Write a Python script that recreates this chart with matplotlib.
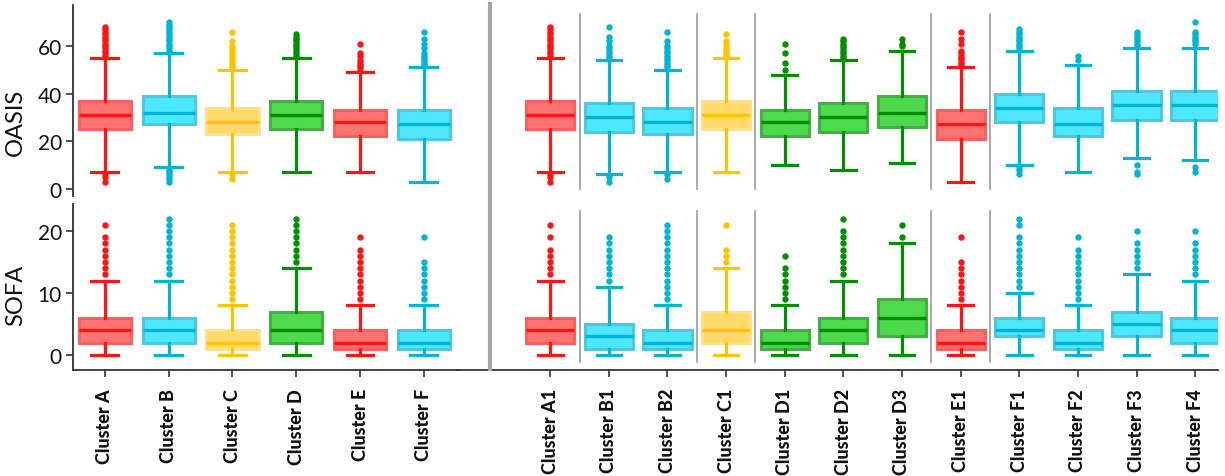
import matplotlib
matplotlib.use("Agg")
import matplotlib.pyplot as plt
from matplotlib.lines import Line2D

plt.rcParams['font.family'] = ['Lato', 'DejaVu Sans']

# ---------------- data ----------------
left_labels = ["Cluster A", "Cluster B", "Cluster C", "Cluster D", "Cluster E", "Cluster F"]
right_labels = ["Cluster A1", "Cluster B1", "Cluster B2", "Cluster C1", "Cluster D1", "Cluster D2",
                "Cluster D3", "Cluster E1", "Cluster F1", "Cluster F2", "Cluster F3", "Cluster F4"]
left_groups = ["A", "B", "C", "D", "E", "F"]
right_groups = ["A", "B", "B", "C", "D", "D", "D", "E", "F", "F", "F", "F"]

# OASIS – left panel
oasis_left_q1 = [25, 27, 23, 25, 22, 21]
oasis_left_med = [31, 32, 28, 31, 28, 27]
oasis_left_q3 = [37, 39, 34, 37, 33, 33]
oasis_left_lo = [7, 9, 7, 7, 7, 3]
oasis_left_hi = [55, 57, 50, 55, 49, 51]
oasis_left_fliers = [
    [3, 5, 6, 56, 57, 58, 59, 60, 61, 62, 63, 64, 65, 66, 67, 68],
    [3, 4, 5, 6, 7, 8, 58, 59, 60, 61, 62, 63, 64, 65, 66, 67, 68, 69, 70],
    [4, 6, 51, 52, 53, 54, 55, 56, 57, 58, 59, 60, 62, 66],
    [56, 57, 58, 59, 60, 61, 62, 63, 64, 65],
    [50, 51, 52, 53, 54, 56, 57, 61],
    [52, 53, 54, 55, 56, 57, 59, 61, 63, 66],
]

# OASIS – right panel
oasis_right_q1 = [25, 24, 23, 25, 22, 24, 26, 21, 28, 22, 29, 29]
oasis_right_med = [31, 30, 28, 31, 28, 30, 32, 27, 34, 27, 35, 35]
oasis_right_q3 = [37, 36, 34, 37, 33, 36, 39, 33, 40, 34, 41, 41]
oasis_right_lo = [7, 6, 7, 7, 10, 8, 11, 3, 10, 7, 13, 12]
oasis_right_hi = [55, 54, 50, 55, 48, 54, 58, 51, 58, 52, 59, 59]
oasis_right_fliers = [
    [3, 5, 6, 56, 57, 58, 59, 60, 61, 62, 63, 64, 65, 66, 67, 68],
    [3, 5, 55, 56, 57, 58, 59, 60, 62, 64, 68],
    [4, 6, 51, 52, 53, 54, 55, 56, 57, 58, 59, 60, 62, 66],
    [56, 57, 58, 59, 61, 62, 65],
    [50, 53, 57, 61],
    [55, 56, 57, 58, 59, 60, 61, 62, 63],
    [60, 61, 63],
    [52, 53, 54, 55, 56, 57, 58, 61, 63, 66],
    [6, 8, 9, 59, 60, 61, 62, 63, 64, 65, 66, 67],
    [54, 56],
    [6, 7, 10, 60, 61, 62, 63, 64, 65, 66],
    [7, 9, 61, 62, 63, 64, 65, 66, 70],
]

# SOFA – left panel
sofa_left_q1 = [2, 2, 1, 2, 1, 1]
sofa_left_med = [4, 4, 2, 4, 2, 2]
sofa_left_q3 = [6, 6, 4, 7, 4, 4]
sofa_left_lo = [0, 0, 0, 0, 0, 0]
sofa_left_hi = [12, 12, 8, 14, 8, 8]
sofa_left_fliers = [
    [13, 14, 15, 16, 17, 18, 19, 21],
    [13, 14, 15, 16, 17, 18, 19, 20, 21, 22],
    [9, 10, 11, 12, 13, 14, 15, 16, 17, 18, 19, 20, 21],
    [15, 16, 17, 18, 19, 20, 21, 22],
    [9, 10, 11, 12, 13, 14, 15, 16, 17, 19],
    [9, 10, 11, 12, 13, 14, 15, 19],
]

# SOFA – right panel
sofa_right_q1 = [2, 1, 1, 2, 1, 2, 3, 1, 3, 1, 3, 2]
sofa_right_med = [4, 3, 2, 4, 2, 4, 6, 2, 4, 2, 5, 4]
sofa_right_q3 = [6, 5, 4, 7, 4, 6, 9, 4, 6, 4, 7, 6]
sofa_right_lo = [0, 0, 0, 0, 0, 0, 0, 0, 0, 0, 0, 0]
sofa_right_hi = [12, 11, 8, 14, 8, 12, 18, 8, 10, 8, 13, 12]
sofa_right_fliers = [
    [13, 14, 15, 16, 17, 19, 21],
    [12, 13, 14, 15, 16, 17, 18, 19],
    [9, 10, 11, 12, 13, 14, 15, 16, 17, 18, 19, 20, 21],
    [15, 16, 17, 21],
    [9, 10, 11, 12, 13, 14, 16],
    [13, 14, 15, 16, 17, 18, 19, 20, 22],
    [19, 21],
    [9, 10, 11, 12, 13, 14, 15, 19],
    [11, 12, 13, 14, 15, 16, 17, 18, 19, 21, 22],
    [9, 10, 11, 12, 13, 14, 15, 16, 17, 19],
    [14, 15, 16, 17, 18, 20],
    [13, 14, 15, 16, 17, 18, 20],
]

# ---------------- styles ----------------
palette = {
    "A": ("#FF1414", "#FF7373", "#FF5E5E"),
    "B": ("#00B5D1", "#4DE7FF", "#4CC9DD"),
    "C": ("#FFC300", "#FFDA6A", "#FFE08A"),
    "D": ("#008F00", "#4DDB4D", "#47AD47"),
    "E": ("#FF1414", "#FF7373", "#FF5E5E"),
    "F": ("#00B5D1", "#4DE7FF", "#4CC9DD"),
}

W, H = 1225, 477
fig = plt.figure(figsize=(W / 100, H / 100), dpi=100)


def rect(x0, x1, y0, y1):
    return [x0 / W, 1 - y1 / H, (x1 - x0) / W, (y1 - y0) / H]


ax_tl = fig.add_axes(rect(73, 457, 6, 197))
ax_bl = fig.add_axes(rect(73, 457, 205, 371))
ax_tr = fig.add_axes(rect(457, 1218, 6, 197))
ax_br = fig.add_axes(rect(457, 1218, 205, 371))


def draw(ax, q1, med, q3, lo, hi, fliers, groups):
    for i in range(len(q1)):
        line, face, edge = palette[groups[i]]
        st = dict(med=med[i], q1=q1[i], q3=q3[i], whislo=lo[i], whishi=hi[i], fliers=fliers[i])
        ax.bxp([st], positions=[i], widths=0.82, capwidths=0.42, patch_artist=True,
               manage_ticks=False,
               boxprops=dict(facecolor=face, edgecolor=edge, linewidth=2.2),
               medianprops=dict(color=line, linewidth=2.4, solid_capstyle='butt'),
               whiskerprops=dict(color=line, linewidth=2.3),
               capprops=dict(color=line, linewidth=2.3),
               flierprops=dict(marker='o', markerfacecolor=line, markeredgecolor=line,
                               markersize=3.6, linestyle='none'))


draw(ax_tl, oasis_left_q1, oasis_left_med, oasis_left_q3, oasis_left_lo, oasis_left_hi,
     oasis_left_fliers, left_groups)
draw(ax_tr, oasis_right_q1, oasis_right_med, oasis_right_q3, oasis_right_lo, oasis_right_hi,
     oasis_right_fliers, right_groups)
draw(ax_bl, sofa_left_q1, sofa_left_med, sofa_left_q3, sofa_left_lo, sofa_left_hi,
     sofa_left_fliers, left_groups)
draw(ax_br, sofa_right_q1, sofa_right_med, sofa_right_q3, sofa_right_lo, sofa_right_hi,
     sofa_right_fliers, right_groups)

for ax in (ax_tl, ax_tr):
    ax.set_ylim(-3.1, 77.3)
for ax in (ax_bl, ax_br):
    ax.set_ylim(-2.4, 24.35)
for ax in (ax_tl, ax_bl):
    ax.set_xlim(-0.5, 5.52)
for ax in (ax_tr, ax_br):
    ax.set_xlim(-1.59, 11.39)

spine_col = "#333333"
for ax in (ax_tl, ax_bl, ax_tr, ax_br):
    for s in ax.spines.values():
        s.set_visible(False)
        s.set_color(spine_col)
        s.set_linewidth(1.3)
    ax.set_facecolor("none")

# left axes y
for ax, ticks in ((ax_tl, [0, 20, 40, 60]), (ax_bl, [0, 10, 20])):
    ax.spines['left'].set_visible(True)
    ax.set_yticks(ticks)
    ax.tick_params(axis='y', direction='out', length=5, width=1.2, color=spine_col,
                   labelsize=15, pad=3, labelcolor='#111111')
for ax in (ax_tr, ax_br):
    ax.set_yticks([])
ax_tl.set_xticks([])
ax_tr.set_xticks([])

# bottom axes x
ax_bl.spines['bottom'].set_visible(True)
ax_br.spines['bottom'].set_visible(True)
ax_bl.set_xticks(range(len(left_labels)))
ax_bl.set_xticklabels(left_labels)
ax_br.set_xticks(range(len(right_labels)))
ax_br.set_xticklabels(right_labels)
for ax in (ax_bl, ax_br):
    ax.tick_params(axis='x', direction='out', length=5, width=1.2, color=spine_col, pad=8)
    for t in ax.get_xticklabels():
        t.set_rotation(90)
        t.set_fontfamily(['Lato', 'DejaVu Sans'])
        t.set_fontweight(900)
        t.set_fontsize(13)
        t.set_color('#111111')

ax_tl.set_ylabel("OASIS", fontsize=17, color='#111111')
ax_tl.yaxis.set_label_coords(-0.122, 0.39)
ax_bl.set_ylabel("SOFA", fontsize=17, color='#111111')
ax_bl.yaxis.set_label_coords(-0.122, 0.453)

# thin group separators on the right panels
for x in (0.5, 2.5, 3.5, 6.5, 7.5):
    ax_tr.axvline(x, ymin=0.037, ymax=0.953, color="#9A9A9A", linewidth=1.2, zorder=0)
    ax_br.axvline(x, ymin=0.048, ymax=0.958, color="#9A9A9A", linewidth=1.2, zorder=0)

# thick separator between the two halves
fig.add_artist(Line2D([490 / W, 490 / W], [1 - 5 / H, 1 - 370 / H], color="#A6A6A6",
                      linewidth=3, transform=fig.transFigure))

fig.savefig("out.png", dpi=100)
